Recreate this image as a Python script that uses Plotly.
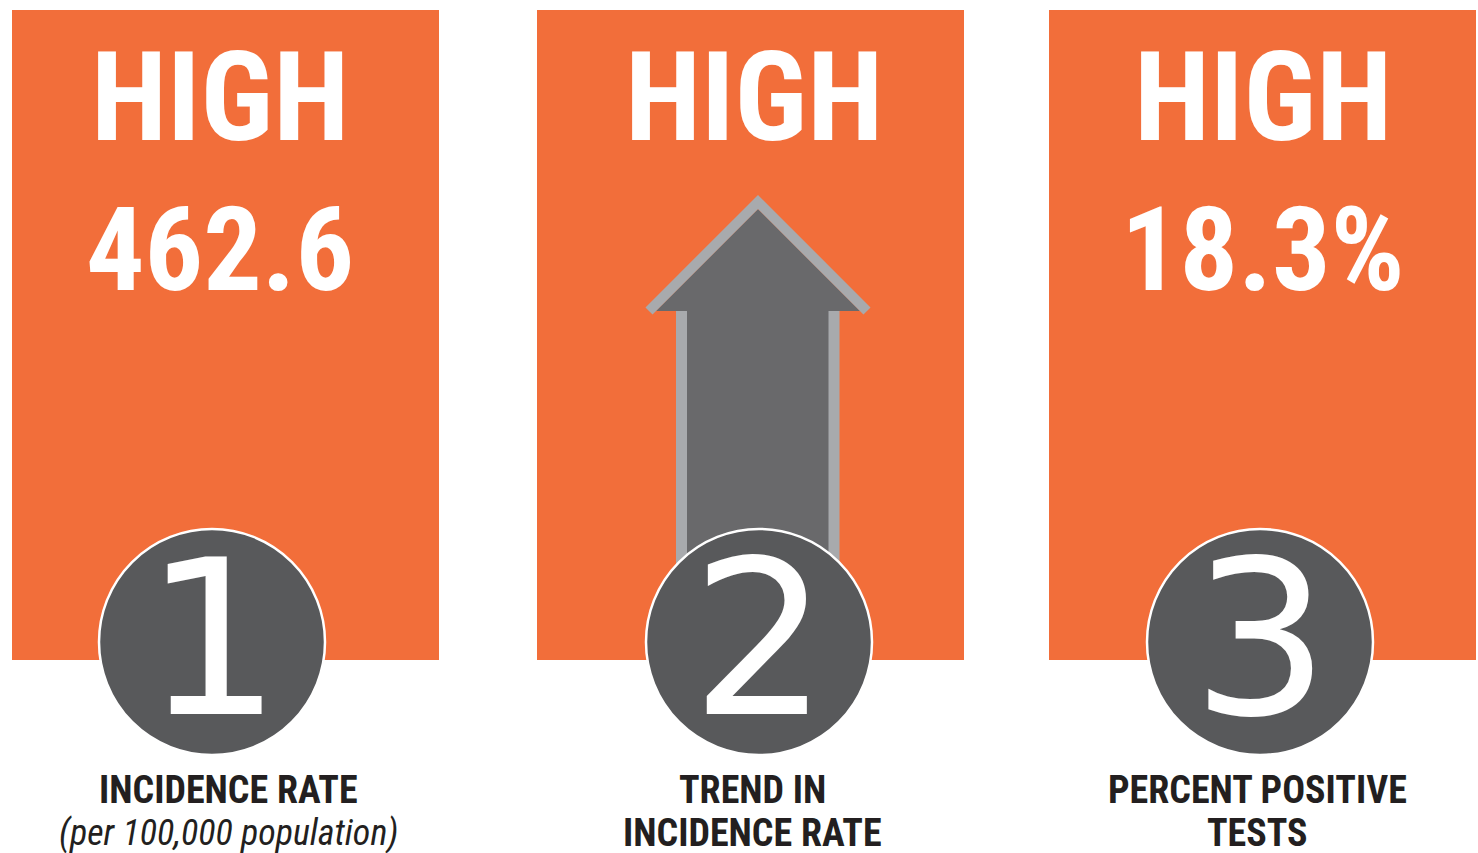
import plotly.graph_objects as go

# ---- data ----
levels = ["HIGH", "HIGH", "HIGH"]
values = ["462.6", "", "18.3%"]
numbers = ["1", "2", "3"]
label_main = ["INCIDENCE RATE", "TREND IN", "PERCENT POSITIVE"]
label_sub = ["(per 100,000 population)", "INCIDENCE RATE", "TESTS"]
label_sub_italic = [True, False, False]
show_arrow = [False, True, False]

W, H = 1478, 853
ORANGE = "#F26E3A"
CIRCLE = "#58595B"
ARROW_DARK = "#69696B"
ARROW_LIGHT = "#A8AAAD"

panel_left = [12, 537, 1049]
panel_w = 427
panel_top, panel_bot = 10, 660
circle_r = 113
circle_cy = 642
circle_cx = [212, 759, 1260]
text_cx = [220, 754, 1263]
label_cx = [228, 752, 1257]

NARROW = "Liberation Sans Narrow, Arial Narrow, Roboto Condensed, Liberation Sans"

fig = go.Figure()
shapes = []
annotations = []

for i in range(3):
    x0 = panel_left[i]
    shapes.append(dict(type="rect", xref="x", yref="y", x0=x0, x1=x0 + panel_w,
                       y0=panel_top, y1=panel_bot, fillcolor=ORANGE,
                       line=dict(width=0), layer="below"))
    cx = circle_cx[i]
    shapes.append(dict(type="circle", xref="x", yref="y", x0=cx - circle_r, x1=cx + circle_r,
                       y0=circle_cy - circle_r, y1=circle_cy + circle_r,
                       fillcolor=CIRCLE, line=dict(color="white", width=2.5), layer="above"))
    annotations.append(dict(x=text_cx[i], y=97, xref="x", yref="y", text=f"<b>{levels[i]}</b>",
                            showarrow=False, font=dict(family=NARROW, size=124, color="white"),
                            xanchor="center", yanchor="middle"))
    if values[i]:
        annotations.append(dict(x=text_cx[i], y=250, xref="x", yref="y", text=f"<b>{values[i]}</b>",
                                showarrow=False, font=dict(family=NARROW, size=116, color="white"),
                                xanchor="center", yanchor="middle"))
    annotations.append(dict(x=cx, y=639, xref="x", yref="y", text=numbers[i],
                            showarrow=False, font=dict(family="DejaVu Sans", size=216, color="white"),
                            xanchor="center", yanchor="middle"))
    annotations.append(dict(x=label_cx[i], y=790, xref="x", yref="y", text=f"<b>{label_main[i]}</b>",
                            showarrow=False, font=dict(family=NARROW, size=38, color="#231F20"),
                            xanchor="center", yanchor="middle"))
    if label_sub_italic[i]:
        sub = f"<i>{label_sub[i]}</i>"
        sub_size = 36
    else:
        sub = f"<b>{label_sub[i]}</b>"
        sub_size = 38
    annotations.append(dict(x=label_cx[i], y=833, xref="x", yref="y", text=sub,
                            showarrow=False, font=dict(family=NARROW, size=sub_size, color="#231F20"),
                            xanchor="center", yanchor="middle"))

    if show_arrow[i]:
        ax = 758
        fig.add_trace(go.Scatter(
            x=[656, ax, 860, 829, 829, 687, 687, 656],
            y=[311, 209, 311, 311, 620, 620, 311, 311],
            mode="lines", fill="toself", fillcolor=ARROW_DARK,
            line=dict(width=0, color=ARROW_DARK), hoverinfo="skip", showlegend=False))
        fig.add_trace(go.Scatter(x=[649, ax, 867], y=[311, 202, 311], mode="lines",
                                 line=dict(color=ARROW_LIGHT, width=10),
                                 hoverinfo="skip", showlegend=False))
        fig.add_trace(go.Scatter(x=[681.5, 681.5, None, 834, 834], y=[311, 620, None, 311, 620],
                                 mode="lines", line=dict(color=ARROW_LIGHT, width=11),
                                 hoverinfo="skip", showlegend=False))

fig.update_layout(
    width=W, height=H, margin=dict(l=0, r=0, t=0, b=0),
    paper_bgcolor="white", plot_bgcolor="white",
    xaxis=dict(range=[0, W], visible=False, fixedrange=True),
    yaxis=dict(range=[H, 0], visible=False, fixedrange=True),
    shapes=shapes, annotations=annotations, showlegend=False,
)

fig.write_html("out.html", config={"displayModeBar": False},
               post_script="document.body.style.margin='0';document.body.style.overflow='hidden';")
